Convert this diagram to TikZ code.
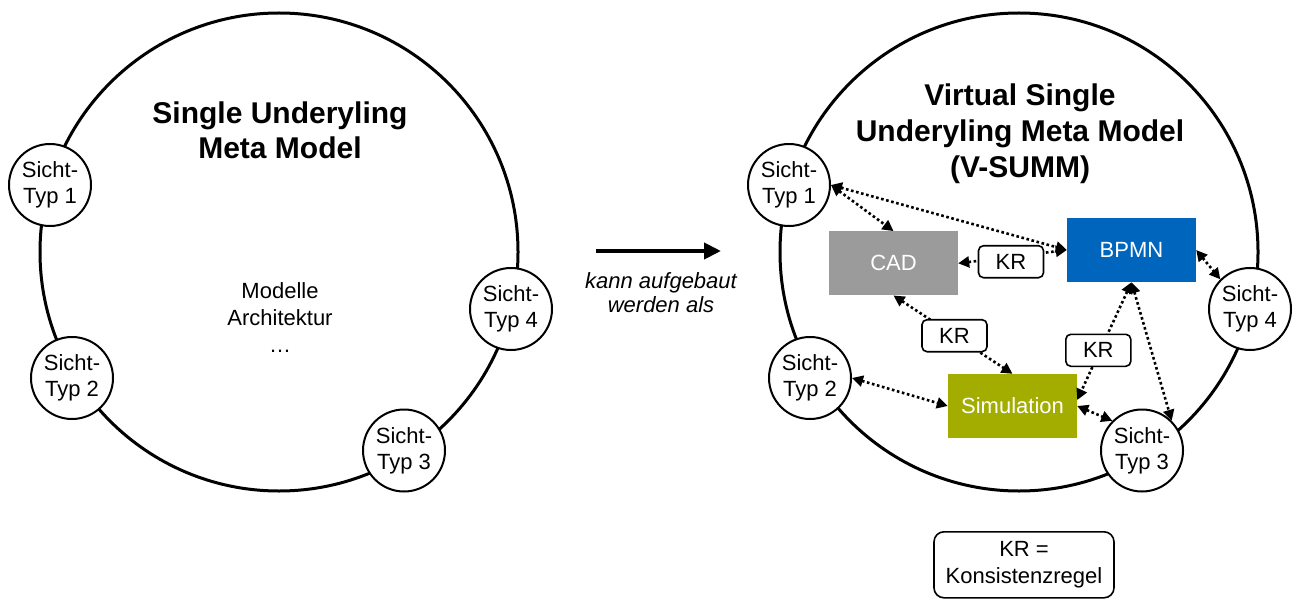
\documentclass[tikz,border=0pt]{standalone}
\usepackage{fontspec}
\setmainfont{Liberation Sans}
\usetikzlibrary{arrows.meta}

\definecolor{cadgray}{RGB}{155,155,155}
\definecolor{bpmnblue}{RGB}{0,102,189}
\definecolor{simolive}{RGB}{163,173,0}

\tikzset{
  bigring/.style={draw, circle, line width=3pt, minimum size=478pt, inner sep=0pt},
  view/.style={draw, circle, fill=white, line width=2pt, minimum size=82pt, inner sep=0pt,
    align=center, font=\fontsize{22}{26}\selectfont},
  model/.style={rectangle, minimum width=129pt, minimum height=64pt, inner sep=0pt,
    text=white, font=\fontsize{22}{26}\selectfont},
  rule/.style={draw, rectangle, rounded corners=5pt, fill=white, line width=1.6pt,
    minimum width=65pt, minimum height=32pt, inner sep=0pt, font=\fontsize{22}{26}\selectfont},
  link/.style={line width=2.6pt, dash pattern=on 2.6pt off 2.6pt,
    {Triangle[length=11pt,width=11pt]}-{Triangle[length=11pt,width=11pt]}},
  title/.style={align=center, font=\fontsize{30}{35.8}\selectfont\bfseries},
  plain/.style={align=center, font=\fontsize{22}{27.3}\selectfont},
}

\begin{document}
\begin{tikzpicture}[x=1pt, y=-1pt]
\useasboundingbox (0,0) rectangle (1293,599);

% ---- left: single underlying meta model ----
\node[bigring] (lring) at (279,252) {};
\node[title] (ltitle) at (280,130.3) {Single Underyling\\Meta Model};
\node[plain] (lcontent) at (280,317.5) {Modelle\\Architektur\\…};
\node[view] (lv1) at (50,185) {Sicht-\\Typ 1};
\node[view] (lv2) at (72,378) {Sicht-\\Typ 2};
\node[view] (lv3) at (404,450.5) {Sicht-\\Typ 3};
\node[view] (lv4) at (511,309) {Sicht-\\Typ 4};

% ---- transition arrow ----
\coordinate (from) at (596,251);
\coordinate (to) at (721,251);
\draw[line width=4pt, -{Triangle[length=17pt,width=16pt]}] (from) -- (to);
\node[align=center, font=\fontsize{22}{24}\selectfont\itshape] (trans) at (661,293) {kann aufgebaut\\werden als};

% ---- right: virtual single underlying meta model ----
\node[bigring] (rring) at (1019,252) {};
\node[title] (rtitle) at (1020,133.7) {Virtual Single\\Underyling Meta Model\\(V-SUMM)};
\node[view] (rv1) at (789,185) {Sicht-\\Typ 1};
\node[view] (rv2) at (810,378) {Sicht-\\Typ 2};
\node[view] (rv3) at (1142,450.5) {Sicht-\\Typ 3};
\node[view] (rv4) at (1250,309) {Sicht-\\Typ 4};

\node[model, fill=cadgray] (cad) at (893.5,263.3) {CAD};
\node[model, fill=bpmnblue] (bpmn) at (1131.5,250) {BPMN};
\node[model, fill=simolive] (sim) at (1012.5,406) {Simulation};

% view links
\draw[link] (rv1.east) -- (cad.north);
\draw[link] (rv1.east) -- (bpmn.west);
\draw[link] (rv2.east) -- (sim.west);
\draw[link] (sim.east) -- (rv3.north west);
\draw[link] (bpmn.south) -- (rv3.north east);
\draw[link] (bpmn.east) -- (rv4.north west);

% links carrying a consistency rule
\draw[link] (cad.east) -- (bpmn.west);
\draw[link] (cad.south) -- (sim.north);
\draw[link] (bpmn.south) -- ([yshift=6pt]sim.east);
\node[rule] (kr1) at (1011,261.7) {KR};
\node[rule] (kr2) at (954.5,335.7) {KR};
\node[rule] (kr3) at (1098.3,350.3) {KR};

% legend
\node[draw, rectangle, rounded corners=10pt, line width=1.6pt, minimum width=180pt,
  minimum height=66pt, inner sep=0pt, align=center,
  font=\fontsize{22}{26.7}\selectfont] (legend) at (1024,564.8) {KR =\\Konsistenzregel};
\end{tikzpicture}
\end{document}
